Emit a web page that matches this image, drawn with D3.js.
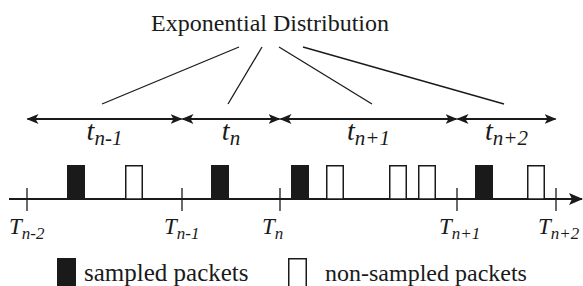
<!DOCTYPE html>
<html><head><meta charset="utf-8">
<script src="https://cdn.jsdelivr.net/npm/d3@7"></script>
<style>
html,body{margin:0;padding:0;background:#fff;font-family:"Liberation Serif","Tinos",monospace;}
svg{display:block;}
</style>
</head><body>
<svg id="c" width="583" height="286" font-family="Liberation Serif, Tinos, monospace"></svg>
<script>
// ---- data ----
const boundaries = [27, 182, 280, 457, 556];          // T_{n-2} .. T_{n+2} (time units)
const boundaryLabels = ["n-2", "n-1", "n", "n+1", "n+2"];
const intervalLabels = ["n-1", "n", "n+1", "n+2"];
const sampledPackets = [67, 211, 291, 475];            // start time of sampled packets
const nonSampledPackets = [125, 326, 389, 418, 527];   // start time of non-sampled packets
const fanTops = [239, 262, 279, 303];                  // where title lines meet
const fanBottoms = [102, 228, 372, 504];               // where title lines end above the arrows
const titleText = "Exponential Distribution";
const legendItems = ["sampled packets", "non-sampled packets"];

// ---- layout ----
const svg = d3.select("#c");
const x = d3.scaleLinear().domain([0, 583]).range([0, 583]);
const ink = "#1a1a1a";

// title
svg.append("text").attr("x", 270).attr("y", 31)
  .attr("text-anchor", "middle").attr("font-size", 24)
  .attr("fill", ink).text(titleText);

// fan lines
const mids = d3.pairs(boundaries).map(([a, b]) => (a + b) / 2);
svg.selectAll("line.fan").data(fanTops).join("line")
  .attr("x1", d => x(d)).attr("y1", 47)
  .attr("x2", (d, i) => x(fanBottoms[i])).attr("y2", 104)
  .attr("stroke", ink).attr("stroke-width", 1.3);

// arrow markers
const defs = svg.append("defs");
defs.append("marker").attr("id", "ah").attr("viewBox", "0 0 12 10")
  .attr("refX", 11).attr("refY", 5).attr("markerWidth", 12).attr("markerHeight", 10)
  .attr("markerUnits", "userSpaceOnUse").attr("orient", "auto-start-reverse")
  .append("path").attr("d", "M0,0 L12,5 L0,10 L3,5 Z").attr("fill", ink);
defs.append("marker").attr("id", "ax").attr("viewBox", "0 0 14 12")
  .attr("refX", 13).attr("refY", 6).attr("markerWidth", 14).attr("markerHeight", 12)
  .attr("markerUnits", "userSpaceOnUse").attr("orient", "auto")
  .append("path").attr("d", "M0,0 L14,6 L0,12 L3,6 Z").attr("fill", ink);

// interval double arrows
const arrowY = 119;
svg.selectAll("line.iv").data(d3.pairs(boundaries)).join("line")
  .attr("x1", d => x(d[0]) + 0.5).attr("x2", d => x(d[1]) - 0.5)
  .attr("y1", arrowY).attr("y2", arrowY)
  .attr("stroke", ink).attr("stroke-width", 2)
  .attr("marker-start", "url(#ah)").attr("marker-end", "url(#ah)");

// interval labels
const il = svg.selectAll("text.il").data(intervalLabels).join("text")
  .attr("x", (d, i) => x(mids[i])).attr("y", 140)
  .attr("text-anchor", "middle").attr("font-style", "italic")
  .attr("fill", ink);
il.append("tspan").attr("font-size", 28).text("t");
il.append("tspan").attr("font-size", 21).attr("dy", 5).text(d => d);

// time axis
const axisY = 199;
svg.append("line").attr("x1", 9).attr("x2", 582).attr("y1", axisY).attr("y2", axisY)
  .attr("stroke", ink).attr("stroke-width", 2).attr("marker-end", "url(#ax)");
svg.selectAll("line.tick").data(boundaries).join("line")
  .attr("x1", d => x(d)).attr("x2", d => x(d)).attr("y1", 188).attr("y2", 211)
  .attr("stroke", ink).attr("stroke-width", 1.3);

// packets
const pw = 18, ph = 34;
svg.selectAll("rect.s").data(sampledPackets).join("rect")
  .attr("x", d => x(d)).attr("y", axisY - ph).attr("width", pw).attr("height", ph)
  .attr("fill", ink);
svg.selectAll("rect.ns").data(nonSampledPackets).join("rect")
  .attr("x", d => x(d) + 0.75).attr("y", axisY - ph + 0.75).attr("width", pw - 1.5).attr("height", ph - 0.75)
  .attr("fill", "#fff").attr("stroke", ink).attr("stroke-width", 1.5);

// boundary labels
const bl = svg.selectAll("text.bl").data(boundaryLabels).join("text")
  .attr("x", (d, i) => x(boundaries[i]) - 18).attr("y", 234)
  .attr("font-style", "italic").attr("fill", ink);
bl.append("tspan").attr("font-size", 23).text("T");
bl.append("tspan").attr("font-size", 17).attr("dy", 5).text(d => d);

// legend
svg.append("rect").attr("x", 57).attr("y", 258).attr("width", 19).attr("height", 30).attr("fill", ink);
svg.append("text").attr("x", 84).attr("y", 281).attr("font-size", 25)
  .attr("fill", ink).text(legendItems[0]);
svg.append("rect").attr("x", 288.75).attr("y", 258.75).attr("width", 17.5).attr("height", 30)
  .attr("fill", "#fff").attr("stroke", ink).attr("stroke-width", 1.5);
svg.append("text").attr("x", 325).attr("y", 281).attr("font-size", 24)
  .attr("fill", ink).text(legendItems[1]);
</script>
</body></html>
